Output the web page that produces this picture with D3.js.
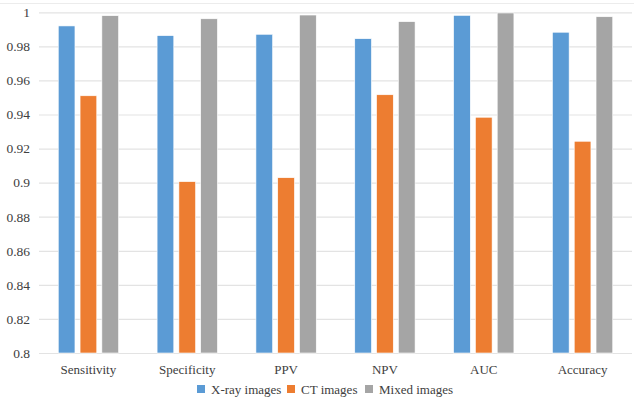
<!DOCTYPE html>
<html>
<head>
<meta charset="utf-8">
<script src="https://cdn.jsdelivr.net/npm/d3@7"></script>
<style>
  body { margin: 0; background: #fff; }
  svg text { font-family: "Liberation Serif", "Times New Roman", Times, "DejaVu Serif", serif; fill: #404040; }
</style>
</head>
<body>
<div id="plot"></div>
<script>
  var categories = ["Sensitivity", "Specificity", "PPV", "NPV", "AUC", "Accuracy"];
  var seriesNames = ["X-ray images", "CT images", "Mixed images"];
  var xray = [0.992, 0.9863, 0.9871, 0.9845, 0.9982, 0.9883];
  var ct = [0.951, 0.9006, 0.9029, 0.9516, 0.9384, 0.9243];
  var mixed = [0.998, 0.9962, 0.9984, 0.9945, 0.9996, 0.9974];
  var yTicks = [0.8, 0.82, 0.84, 0.86, 0.88, 0.9, 0.92, 0.94, 0.96, 0.98, 1];
  var colors = ["#5b9bd5", "#ed7d31", "#a5a5a5"];

  var w = 634, h = 400;
  // plot area edges (window.top is reserved, so keep these in an object)
  var plot = {left: 39, right: 632, top: 12.3, bottom: 353};
  var serifFont = '"Liberation Serif", "Times New Roman", Times, "DejaVu Serif", serif';

  var series = [xray, ct, mixed];
  var rows = [];
  categories.forEach((c, i) => {
    series.forEach((s, j) => rows.push({cat: c, k: j, v: s[i]}));
  });

  var xScale = d3.scaleBand()
      .domain(categories)
      .range([plot.left, plot.right]);

  var xInner = d3.scaleBand()
      .domain(d3.range(series.length))
      .range([0, xScale.bandwidth()])
      .paddingInner(0.234)
      .paddingOuter(0.883);

  var yScale = d3.scaleLinear()
      .domain([0.8, 1])
      .range([plot.bottom, plot.top]);

  var svg = d3.select("#plot").append("svg")
      .attr("width", w)
      .attr("height", h)
      .attr("font-family", serifFont);

  // faint top border
  svg.append("line")
      .attr("x1", 0).attr("x2", w)
      .attr("y1", 3.5).attr("y2", 3.5)
      .attr("stroke", "#ececec");

  // gridlines + y labels
  var yAxis = d3.axisLeft(yScale)
      .tickValues(yTicks)
      .tickSize(-(plot.right - plot.left))
      .tickPadding(9)
      .tickFormat(d => String(+d.toFixed(2)));

  var gy = svg.append("g")
      .attr("transform", `translate(${plot.left},0)`)
      .call(yAxis)
      .attr("font-family", serifFont);
  gy.select(".domain").remove();
  gy.selectAll(".tick line").attr("stroke", "#e3e3e3").attr("stroke-width", 1.2);
  gy.selectAll(".tick text")
      .attr("font-size", "13.5px")
      .attr("fill", "#404040");

  // bars
  svg.append("g").selectAll("rect")
      .data(rows)
    .enter().append("rect")
      .attr("x", d => xScale(d.cat) + xInner(d.k))
      .attr("y", d => yScale(d.v))
      .attr("width", xInner.bandwidth())
      .attr("height", d => plot.bottom - yScale(d.v))
      .attr("fill", d => colors[d.k])
      .attr("stroke", "#fff")
      .attr("stroke-width", 0.6);

  // category labels
  var xAxis = d3.axisBottom(xScale).tickSize(0).tickPadding(12);
  var gx = svg.append("g")
      .attr("transform", `translate(0,${plot.bottom})`)
      .call(xAxis)
      .attr("font-family", serifFont);
  gx.select(".domain").remove();
  gx.selectAll(".tick text")
      .attr("font-size", "13px")
      .attr("fill", "#404040");

  // legend
  var legendX = [197, 287, 365];
  var legend = svg.append("g").selectAll("g")
      .data(seriesNames)
    .enter().append("g")
      .attr("transform", (d, i) => `translate(${legendX[i]},389)`);

  legend.append("rect")
      .attr("x", 0).attr("y", -4)
      .attr("width", 8).attr("height", 8)
      .attr("fill", (d, i) => colors[i]);

  legend.append("text")
      .attr("x", 14)
      .attr("y", 4.5)
      .attr("font-size", "13px")
      .text(d => d);
</script>
</body>
</html>
